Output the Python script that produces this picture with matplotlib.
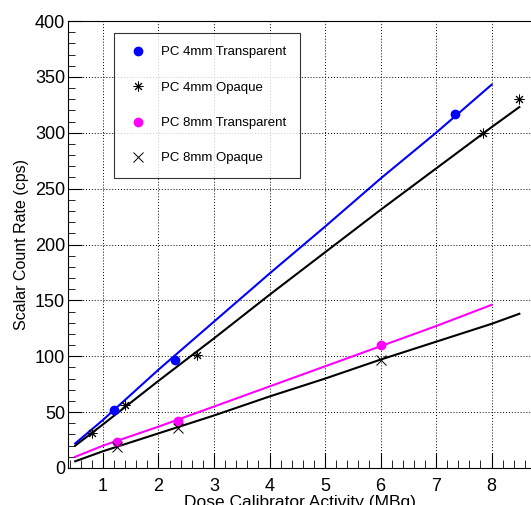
import matplotlib
matplotlib.use('Agg')
import matplotlib.pyplot as plt
from matplotlib.ticker import MultipleLocator

plt.rcParams['font.family'] = ['Liberation Sans', 'DejaVu Sans']

# measured points
x_4t = [1.2, 2.3, 7.35]
y_4t = [52, 97, 317]
x_4o = [0.8, 1.4, 2.7, 7.85, 8.5]
y_4o = [31, 56, 101, 300, 330]
x_8t = [1.25, 2.35, 6.0]
y_8t = [23, 42, 110]
x_8o = [1.25, 2.35, 6.0]
y_8o = [19, 36, 97]

# fitted curves
fit_x = [0.5, 1, 2, 3, 4, 5, 6, 7, 8]
fit_4t = [22, 43, 88, 131, 174, 216, 259, 300, 343]
fit_x_long = [0.5, 1, 2, 3, 4, 5, 6, 7, 8, 8.5]
fit_4o = [20, 39, 78, 116, 155, 193, 231, 268, 305, 323]
fit_8t = [10, 20, 37, 55, 73, 91, 109, 127, 146]
fit_8o = [6, 15, 31, 47, 64, 80, 97, 113, 129, 138]

fig = plt.figure(figsize=(5.31, 5.05), dpi=100)
ax = fig.add_axes([68/531, 37/505, 1 - 68/531, 447/505])

ax.plot(fit_x, fit_4t, color='#0000ff', lw=1.5)
ax.plot(fit_x_long, fit_4o, color='black', lw=1.5)
ax.plot(fit_x, fit_8t, color='#ff00ff', lw=1.5)
ax.plot(fit_x_long, fit_8o, color='black', lw=1.5)

ax.plot(x_4t, y_4t, 'o', color='#0000ff', ms=6, label='PC 4mm Transparent')
ax.plot(x_4o, y_4o, ls='none', marker=(8, 2, 0), color='black', ms=7, mew=0.7,
        label='PC 4mm Opaque')
ax.plot(x_8t, y_8t, 'o', color='#ff00ff', ms=6, label='PC 8mm Transparent')
ax.plot(x_8o, y_8o, ls='none', marker='x', color='black', ms=6.5, mew=0.7,
        label='PC 8mm Opaque')

ax.set_xlim(0.37, 8.71)
ax.set_ylim(0, 400)
ax.xaxis.set_major_locator(MultipleLocator(1))
ax.xaxis.set_minor_locator(MultipleLocator(0.2))
ax.yaxis.set_major_locator(MultipleLocator(50))
ax.yaxis.set_minor_locator(MultipleLocator(10))
ax.tick_params(which='both', direction='in', labelsize=13, colors='black')
ax.tick_params(axis='x', which='major', length=11, pad=7)
ax.tick_params(axis='x', which='minor', length=6)
ax.tick_params(axis='y', which='major', length=10, pad=2)
ax.tick_params(axis='y', which='minor', length=5)
ax.spines['right'].set_visible(False)
ax.grid(True, which='major', color='black', ls=(0, (1, 2)), lw=0.7)

ax.set_ylabel('Scalar Count Rate (cps)', fontsize=11.5, labelpad=4)
ax.set_xlabel('Dose Calibrator Activity (MBq)', fontsize=12.5, labelpad=0)

leg = ax.legend(loc='upper left', bbox_to_anchor=(0.099, 0.973), borderaxespad=0,
                fontsize=9.5, frameon=True, fancybox=False, edgecolor='black',
                borderpad=1.0, handlelength=1.6, handletextpad=1.0,
                labelspacing=1.75)
leg.get_frame().set_linewidth(0.8)

fig.savefig('out.png', dpi=100)
